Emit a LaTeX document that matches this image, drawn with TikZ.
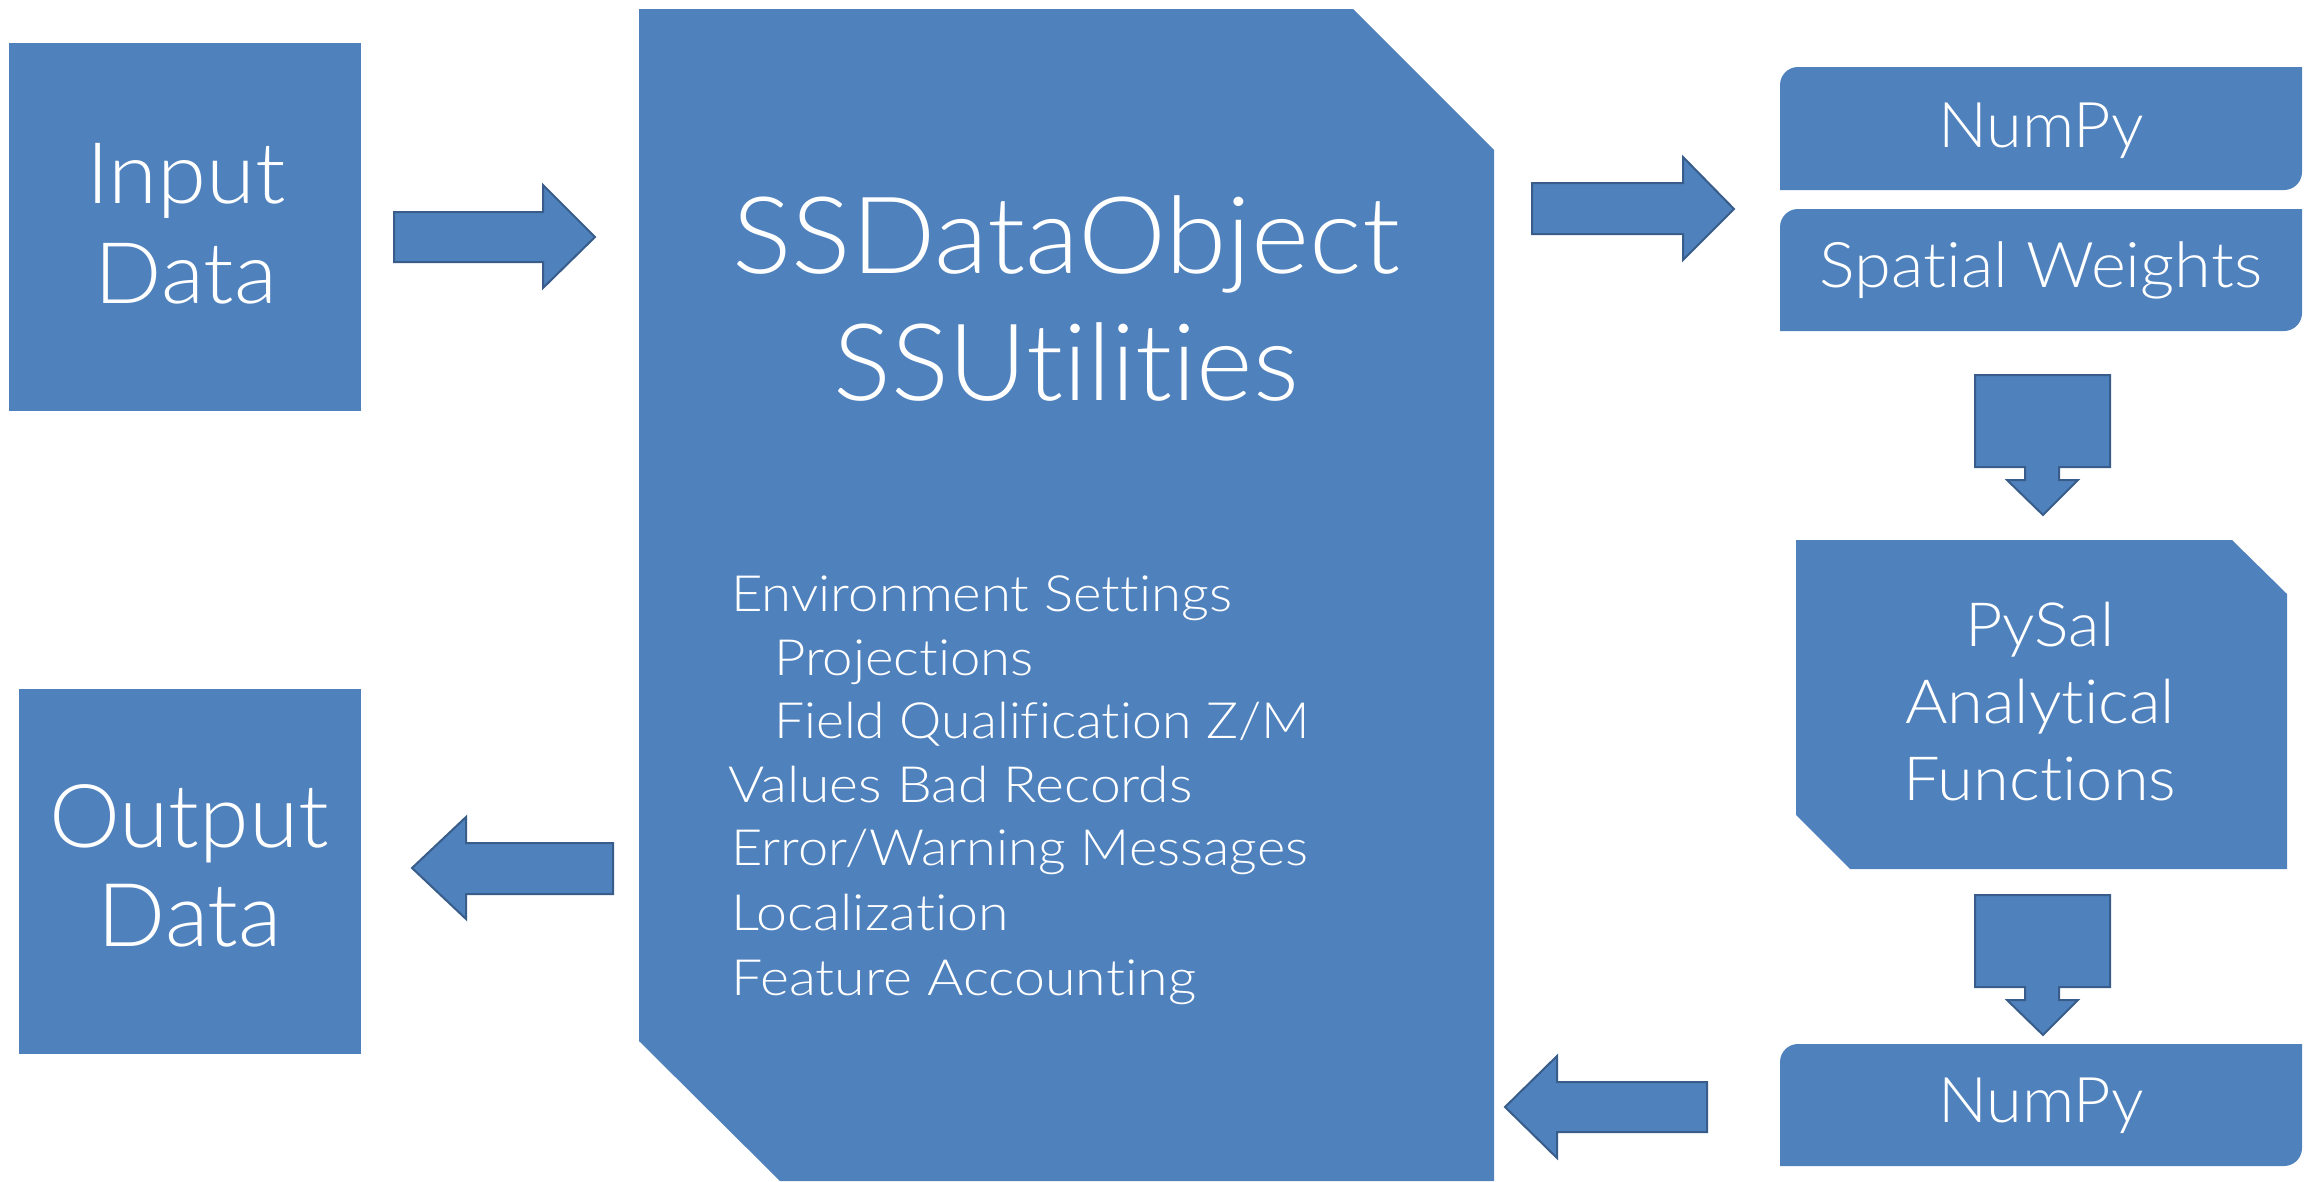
\documentclass[tikz,border=0pt]{standalone}
\usepackage{graphicx}
\usepackage{fontspec}
\IfFontExistsTF{Lato Light}{\setmainfont{Lato Light}[Ligatures=NoCommon]}{\setmainfont{Lato}[Ligatures=NoCommon]}
\definecolor{boxblue}{HTML}{4F81BD}
\definecolor{arrowedge}{HTML}{385D8A}
\tikzset{
  shapefill/.style={fill=boxblue},
  blockarrow/.style={fill=boxblue, draw=arrowedge, line width=2pt, line join=miter},
  lbl/.style={text=white, inner sep=0pt, anchor=base},
  lbll/.style={text=white, inner sep=0pt, anchor=base west},
}
\newcommand{\fs}[1]{\fontsize{#1}{#1}\selectfont}
\newcommand{\hs}[2]{\scalebox{#1}[1]{#2}}
\newcommand{\rdbox}[4]{% x1 y1 x2 y2
  \fill[shapefill] (#1,#4) -- (#1,#2+18) arc (180:270:18) -- (#3,#2) -- (#3,#4-18) arc (0:90:18) -- cycle;}
\begin{document}
\begin{tikzpicture}[x=1pt,y=-1pt]
\useasboundingbox (0,0) rectangle (2318,1181);
\fill[white] (0,0) rectangle (2318,1181);

% boxes
\fill[shapefill] (9,43) rectangle (361,411);
\fill[shapefill] (19,689) rectangle (361,1054);
\fill[shapefill] (639,9) -- (1353,9) -- (1494,150) -- (1494,1181) -- (780,1181) -- (639,1041) -- cycle;
\rdbox{1780}{67}{2302}{190}
\rdbox{1780}{209}{2302}{331}
\rdbox{1780}{1044}{2302}{1166}
\fill[shapefill] (1796,540) -- (2232,540) -- (2287,594) -- (2287,869) -- (1850,869) -- (1796,815) -- cycle;

% block arrows
\draw[blockarrow] (394,212) -- (543,212) -- (543,185) -- (595,237) -- (543,288) -- (543,262) -- (394,262) -- cycle;
\draw[blockarrow] (1532,183) -- (1683,183) -- (1683,157) -- (1734,209) -- (1683,260) -- (1683,234) -- (1532,234) -- cycle;
\draw[blockarrow] (613,843) -- (466,843) -- (466,817) -- (412,868) -- (466,919) -- (466,894) -- (613,894) -- cycle;
\draw[blockarrow] (1707,1082) -- (1557,1082) -- (1557,1056) -- (1505,1107) -- (1557,1158) -- (1557,1132) -- (1707,1132) -- cycle;
\draw[blockarrow] (1975,375) -- (2110,375) -- (2110,467) -- (2059,467) -- (2059,480) -- (2078,480) -- (2043,515) -- (2007,480) -- (2025,480) -- (2025,467) -- (1975,467) -- cycle;
\draw[blockarrow] (1975,895) -- (2110,895) -- (2110,987) -- (2059,987) -- (2059,1000) -- (2078,1000) -- (2043,1035) -- (2007,1000) -- (2025,1000) -- (2025,987) -- (1975,987) -- cycle;

% texts
\node[lbl, font=\fs{85}] (in1) at (186,203) {\hs{1.045}{Input}};
\node[lbl, font=\fs{85}] (in2) at (186,303) {\hs{1.045}{Data}};
\node[lbl, font=\fs{88}] (out1) at (189,847) {\hs{1.02}{Output}};
\node[lbl, font=\fs{88}] (out2) at (190,946) {\hs{1.02}{Data}};
\node[lbl, font=\fs{107}] (ss1) at (1066,273) {\hs{1.04}{SSDataObject}};
\node[lbl, font=\fs{107}] (ss2) at (1066,400) {\hs{1.01}{SSUtilities}};
\node[lbll, font=\fs{50}] (l1) at (731,611) {\hs{1.09}{Environment Settings}};
\node[lbll, font=\fs{50}] (l2) at (774,675) {\hs{1.09}{Projections}};
\node[lbll, font=\fs{50}] (l3) at (774,738) {\hs{1.07}{Field Qualification Z/M}};
\node[lbll, font=\fs{50}] (l4) at (728,802) {\hs{1.105}{Values Bad Records}};
\node[lbll, font=\fs{50}] (l5) at (731,865) {\hs{1.083}{Error/Warning Messages}};
\node[lbll, font=\fs{50}] (l6) at (731,930) {\hs{1.11}{Localization}};
\node[lbll, font=\fs{50}] (l7) at (731,995) {\hs{1.11}{Feature Accounting}};
\node[lbl, font=\fs{63}] (np1) at (2041,147) {\hs{1.03}{NumPy}};
\node[lbl, font=\fs{63}] (sw) at (2041,287) {\hs{1.06}{Spatial Weights}};
\node[lbl, font=\fs{61}] (ps1) at (2040,646) {\hs{1.06}{PySal}};
\node[lbl, font=\fs{61}] (ps2) at (2040,723) {\hs{1.065}{Analytical}};
\node[lbl, font=\fs{61}] (ps3) at (2040,800) {\hs{1.065}{Functions}};
\node[lbl, font=\fs{63}] (np2) at (2041,1122) {\hs{1.03}{NumPy}};
\end{tikzpicture}
\end{document}
